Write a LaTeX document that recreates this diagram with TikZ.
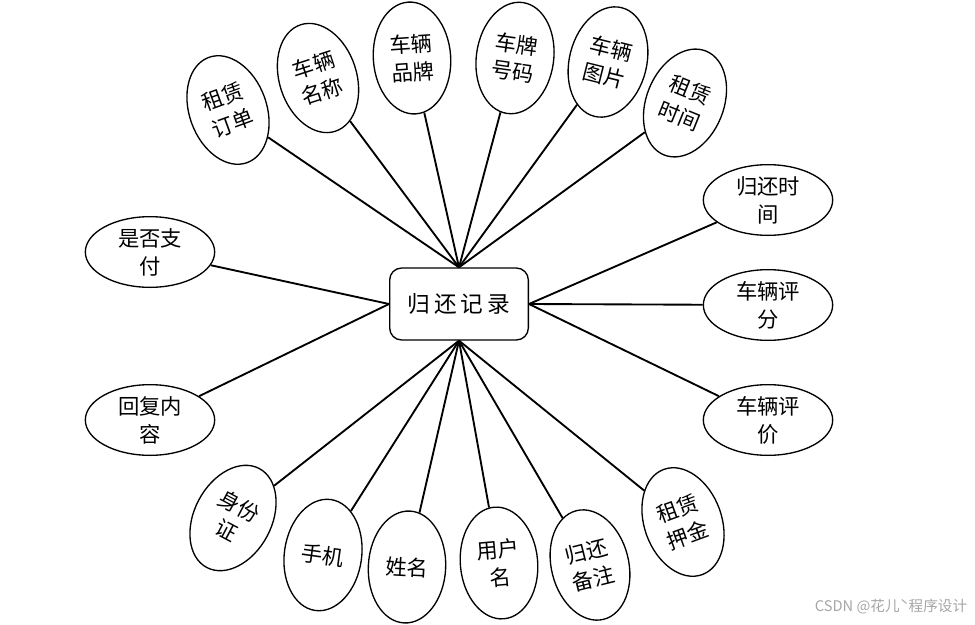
\documentclass[tikz,border=0pt]{standalone}
\usepackage{fontspec}
\setmainfont{Noto Sans CJK SC}
\usetikzlibrary{shapes.geometric}

\tikzset{
    attr/.style={ellipse, draw, line width=1pt, inner sep=0pt, align=center,
                 font=\fontsize{16}{21}\selectfont},
    tallattr/.style={attr, minimum width=58pt, minimum height=84pt},
    wideattr/.style={attr, minimum width=97pt, minimum height=53pt},
    entity/.style={rectangle, draw, line width=1pt, rounded corners=9pt,
                   minimum width=104pt, minimum height=54pt,
                   font=\fontsize{17}{20}\selectfont},
    link/.style={line width=1.4pt}
}

\begin{document}
\begin{tikzpicture}[x=0.75pt,y=-0.75pt]

\useasboundingbox (0,0) rectangle (975,625);

% entity
\node[entity] (rec) at (459,304) {归\hspace{3pt}还\hspace{3pt}记\hspace{3pt}录};

% top
\node[tallattr, rotate=20]  (zldd) at (228,110) {租赁\\订单};
\node[tallattr, rotate=18]  (clmc) at (318,78)  {车辆\\名称};
\node[tallattr, rotate=4]   (clpp) at (412,58)  {车辆\\品牌};
\node[tallattr, rotate=-8]  (cphm) at (515,58)  {车牌\\号码};
\node[tallattr, rotate=-14] (cltp) at (608,62)  {车辆\\图片};
\node[tallattr, rotate=-22] (zlsj) at (685,103) {租赁\\时间};

% left
\node[wideattr] (sfzf) at (150,252) {是否支\\付};
\node[wideattr] (hfnr) at (150,420) {回复内\\容};

% right
\node[wideattr] (ghsj) at (768,200) {归还时\\间};
\node[wideattr] (clpf) at (768,305) {车辆评\\分};
\node[wideattr] (clpj) at (768,420) {车辆评\\价};

% bottom
\node[tallattr, rotate=-28] (sfz)  at (233,518) {身份\\证};
\node[tallattr, rotate=-8]  (sj)   at (323,555) {手机};
\node[tallattr, rotate=-3]  (xm)   at (407,567) {姓名};
\node[tallattr, rotate=5]   (yhm)  at (499,563) {用户\\名};
\node[tallattr, rotate=14]  (ghbz) at (590,565) {归还\\备注};
\node[tallattr, rotate=20]  (zlyj) at (683,522) {租赁\\押金};

% links
\foreach \a in {zldd,clmc,clpp,cphm,cltp,zlsj}{
    \draw[link] (rec.north) -- (\a);
}
\foreach \a in {sfz,sj,xm,yhm,ghbz,zlyj}{
    \draw[link] (rec.south) -- (\a);
}
\foreach \a in {sfzf,hfnr}{
    \draw[link] (rec.west) -- (\a);
}
\foreach \a in {ghsj,clpf,clpj}{
    \draw[link] (rec.east) -- (\a);
}

% watermark
\node[text=black!35, font=\fontsize{11}{13}\selectfont, anchor=east]
    (wm) at (972,607) {CSDN @花儿ˋ程序设计};

\end{tikzpicture}
\end{document}
